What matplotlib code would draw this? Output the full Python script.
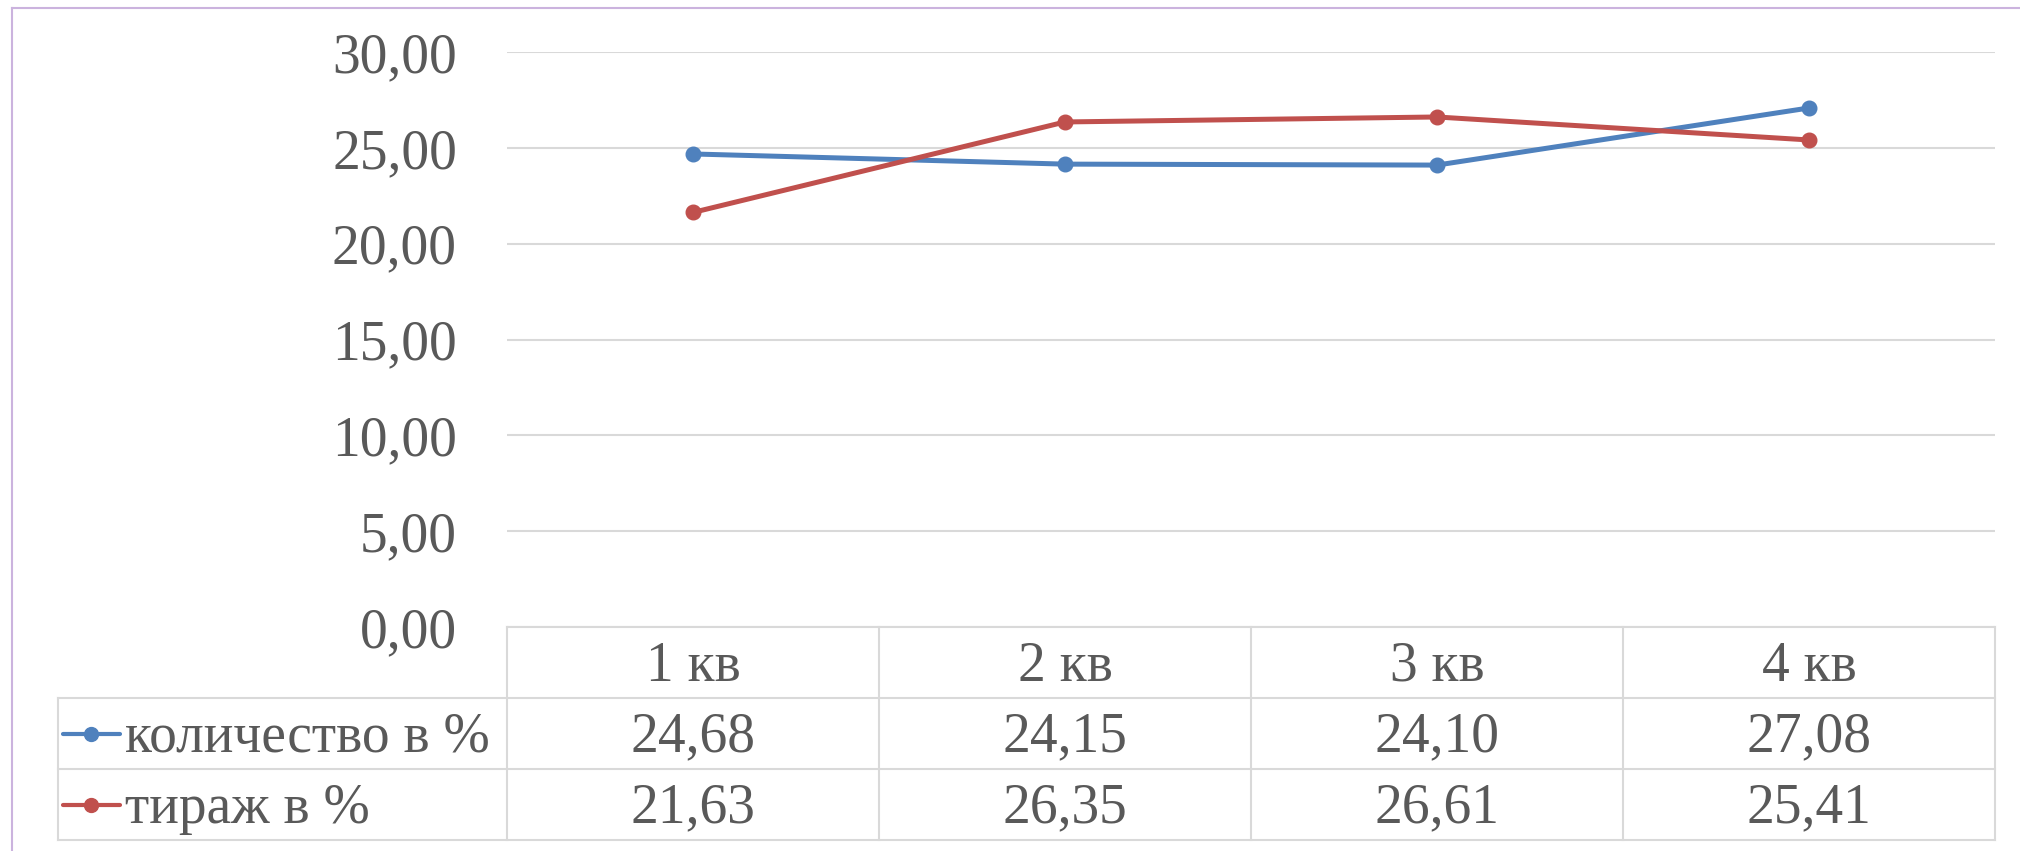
import matplotlib
matplotlib.use("Agg")
import matplotlib.pyplot as plt
from matplotlib.lines import Line2D

quarters = ['1 кв', '2 кв', '3 кв', '4 кв']
series_names = ['количество в %', 'тираж в %']
kolichestvo = [24.68, 24.15, 24.10, 27.08]
tirazh = [21.63, 26.35, 26.61, 25.41]
y_ticks = [0, 5, 10, 15, 20, 25, 30]

blue = '#4F81BD'
red = '#C0504D'
text_col = '#595959'
grid_col = '#D9D9D9'

plt.rcParams['font.family'] = ['Liberation Serif', 'DejaVu Serif']

W, H = 2020, 851
fig = plt.figure(figsize=(W / 100, H / 100), dpi=100)

# plot area in pixels: left 507, right 1995, top 52, bottom 627
L, R, T, B = 507, 1995, 52, 627
ax = fig.add_axes([L / W, 1 - B / H, (R - L) / W, (B - T) / H])

x = [i + 0.5 for i in range(len(quarters))]
ax.plot(x, kolichestvo, color=blue, lw=3.6, marker='o', ms=10.5, solid_capstyle='round', zorder=4)
ax.plot(x, tirazh, color=red, lw=3.6, marker='o', ms=10.5, solid_capstyle='round', zorder=4)

ax.set_xlim(0, len(quarters))
ax.set_ylim(0, 30)
ax.set_yticks(y_ticks)
ax.set_yticklabels([f'{v:.2f}'.replace('.', ',') for v in y_ticks])
ax.tick_params(axis='y', length=0, pad=36, labelsize=40, labelcolor=text_col)
ax.set_xticks([])
for s in ax.spines.values():
    s.set_visible(False)
ax.yaxis.grid(True, color=grid_col, lw=1.5)
ax.set_axisbelow(True)

# data table below the plot
tr = ax.get_xaxis_transform()
px_unit = (R - L) / len(quarters)
row_h = 71 / (B - T)
leg_left = (58 - L) / px_unit
n = len(quarters)

def hline(y, x0, x1):
    ax.add_line(Line2D([x0, x1], [y, y], transform=tr, color=grid_col, lw=1.5, clip_on=False))

def vline(xv, y0, y1):
    ax.add_line(Line2D([xv, xv], [y0, y1], transform=tr, color=grid_col, lw=1.5, clip_on=False))

hline(0, 0, n)
for k in (1, 2, 3):
    hline(-row_h * k, leg_left, n)
for i in range(n + 1):
    vline(i, 0, -3 * row_h)
vline(leg_left, -row_h, -3 * row_h)

fs = 40
for i, q in enumerate(quarters):
    ax.text(i + 0.5, -row_h + 0.03, q, transform=tr, ha='center', va='baseline',
            fontsize=fs, color=text_col)
for r, vals in enumerate([kolichestvo, tirazh]):
    base = -row_h * (r + 2) + 0.03
    for i, v in enumerate(vals):
        ax.text(i + 0.5, base, f'{v:.2f}'.replace('.', ','), transform=tr, ha='center',
                va='baseline', fontsize=fs, color=text_col)

# legend keys inside the table
for r, (name, col) in enumerate(zip(series_names, [blue, red])):
    yc = -row_h * (r + 1.5) + 0.0
    x0 = (63 - L) / px_unit
    x1 = (120 - L) / px_unit
    xm = (91 - L) / px_unit
    ax.add_line(Line2D([x0, x1], [yc, yc], transform=tr, color=col, lw=3,
                       solid_capstyle='round', clip_on=False))
    ax.add_line(Line2D([xm], [yc], transform=tr, color=col, marker='o', ms=10,
                       clip_on=False))
    ax.text((125 - L) / px_unit, -row_h * (r + 2) + 0.03, name, transform=tr,
            ha='left', va='baseline', fontsize=fs, color=text_col)

# chart frame (only top and left edges are in view)
border = '#CBB3DE'
fig.add_artist(Line2D([12 / W, 12 / W], [0, 1 - 8 / H], transform=fig.transFigure,
                      color=border, lw=1.5))
fig.add_artist(Line2D([12 / W, 1], [1 - 8 / H, 1 - 8 / H], transform=fig.transFigure,
                      color=border, lw=1.5))

fig.savefig('out.png', dpi=100, facecolor='white')
